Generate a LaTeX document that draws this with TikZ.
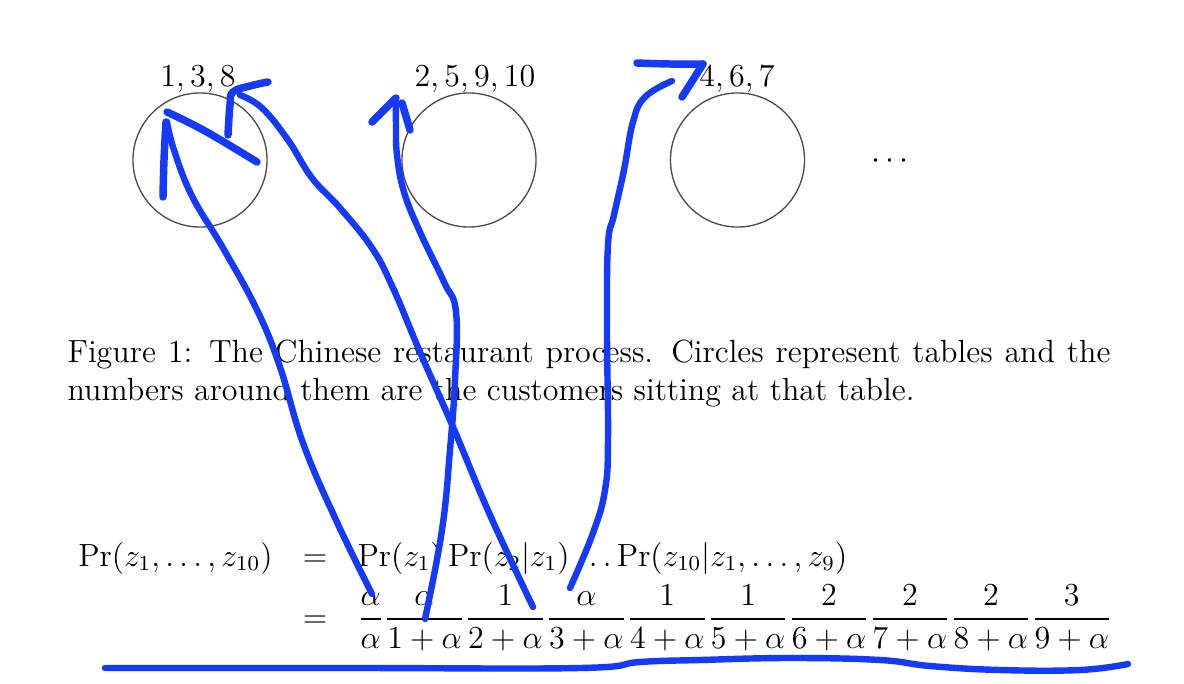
\documentclass[tikz,border=0pt]{standalone}
\definecolor{ink}{RGB}{22,58,250}

\begin{document}
\begin{tikzpicture}[x=0.3745pt, y=-0.3745pt,
    every node/.style={inner sep=0pt, font=\fontsize{12}{14.5}\selectfont},
    tablecirc/.style={circle, draw=black!70, line width=0.5pt, minimum size=50.2pt},
    pen/.style={draw=ink, line width=2.4pt, line cap=round, line join=round},
    penhead/.style={pen, line width=2.8pt}
]
    \path[use as bounding box, fill=white] (0,0) rectangle (1184,684);

    \node[tablecirc] (t1) at (200,160) {};
    \node[tablecirc] (t2) at (469,160) {};
    \node[tablecirc] (t3) at (737.5,160) {};
    \node[anchor=base] (dots) at (890,168) {$\cdots$};

    \node[anchor=base] (lab1) at (198,86) {$1,3,8$};
    \node[anchor=base] (lab2) at (475,86) {$2,5,9,10$};
    \node[anchor=base] (lab3) at (737,86) {$4,6,7$};

    \node[anchor=base west, text width=390.6pt, align=justify] (cap) at (67,362)
        {Figure 1: The Chinese restaurant process. Circles represent tables and the\linebreak
         numbers around them are the customers sitting at that table.};

    \node[anchor=base east] (lhs) at (273,566) {$\Pr(z_1,\ldots,z_{10})$};
    \node[anchor=base] (eq1) at (315,566) {$=$};
    \node[anchor=base west] (rhs1) at (357,566) {$\Pr(z_1)\Pr(z_2|z_1)\ldots\Pr(z_{10}|z_1,\ldots,z_9)$};
    \node[anchor=base] (eq2) at (315,627) {$=$};
    \node[anchor=base west] (rhs2) at (357,627) {$\displaystyle
        \frac{\alpha}{\alpha}\frac{\alpha}{1+\alpha}\frac{1}{2+\alpha}\frac{\alpha}{3+\alpha}
        \frac{1}{4+\alpha}\frac{1}{5+\alpha}\frac{2}{6+\alpha}\frac{2}{7+\alpha}
        \frac{2}{8+\alpha}\frac{3}{9+\alpha}$};

    % hand strokes
    \draw[pen] plot[smooth, tension=0.7] coordinates {(372,594) (336,520) (303,443) (280,367)
        (257,310) (223,248) (192,196) (174,150) (167,122)};
    \draw[penhead] plot[smooth, tension=0.7] coordinates {(163,197) (164,160) (166,122)};
    \draw[penhead] plot[smooth, tension=0.7] coordinates {(167,112) (205,131) (257,162)};

    \draw[pen] plot[smooth, tension=0.7] coordinates {(533,607) (490,515) (453,427) (420,352)
        (393,288) (372,248) (340,208) (312,178) (288,140) (262,108) (240,95)};
    \draw[penhead] plot[smooth, tension=0.7] coordinates {(228,135) (230,105) (233,92) (250,86) (268,82)};

    \draw[pen] plot[smooth, tension=0.7] coordinates {(425,619) (442,530) (450,450) (455,380)
        (456,312) (444,282) (420,232) (404,192) (397,155) (396,125) (396,100)};
    \draw[penhead] (372,122) -- (396,98);
    \draw[penhead] (402,103) -- (410,130);

    \draw[pen] plot[smooth, tension=0.7] coordinates {(570,588) (593,533) (605,490) (608,440)
        (607,330) (608,245) (614,215) (624,170) (633,122) (645,97) (672,81)};
    \draw[penhead] plot[smooth, tension=0.7] coordinates {(637,63) (670,64) (703,64)};
    \draw[penhead] (703,64) -- (682,97);

    \draw[pen] plot[smooth, tension=0.7] coordinates {(105,668) (350,668) (580,668) (640,662)
        (700,660) (790,658) (880,660) (930,666) (1000,670) (1080,670) (1128,664)};
\end{tikzpicture}
\end{document}
